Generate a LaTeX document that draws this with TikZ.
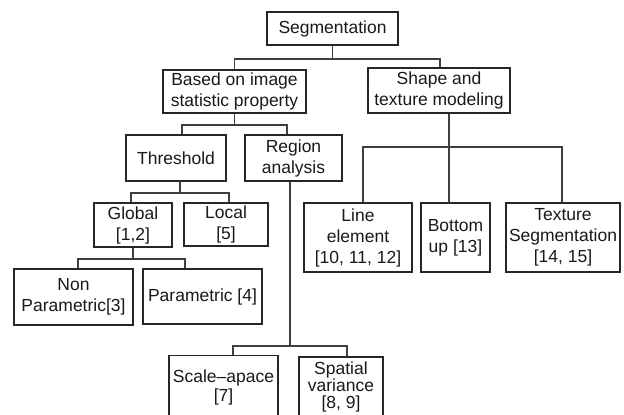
\documentclass[tikz,border=0pt]{standalone}
\usepackage{fontspec}
\setmainfont{Liberation Sans}
\begin{document}
\begin{tikzpicture}[x=1pt,y=-1pt,
  box/.style={draw=black!85, line width=1.8pt, fill=white, inner sep=0pt, align=center,
    font=\fontsize{17.5}{21}\selectfont, text=black!90},
  conn/.style={draw=black!75, line width=1.8pt}]
\useasboundingbox (0,0) rectangle (624,415);
\clip (0,0) rectangle (624,415);
\node[box, minimum width=131pt, minimum height=33pt] (seg) at (332.5,28.5) {Segmentation};
\node[box, minimum width=143pt, minimum height=43pt] (based) at (234.5,91.5) {Based on image\\statistic property};
\node[box, minimum width=142pt, minimum height=45pt] (shape) at (439,90.5) {Shape and\\texture modeling};
\node[box, minimum width=100pt, minimum height=46pt] (thresh) at (176,158) {Threshold};
\node[box, minimum width=97pt, minimum height=46pt] (region) at (293.5,158) {Region\\analysis};
\node[box, minimum width=78pt, minimum height=44pt] (global) at (133,225) {Global\\{[1,2]}};
\node[box, minimum width=84pt, minimum height=43pt] (local) at (226,224.5) {Local\\{[5]}};
\node[box, minimum width=119pt, minimum height=56pt] (nonpar) at (73.5,297) {Non\\Parametric[3]};
\node[box, minimum width=119pt, minimum height=55pt] (par) at (202.5,296.5) {Parametric [4]};
\node[box, minimum width=108pt, minimum height=69pt] (line) at (358,237.5) {Line\\element\\{[10, 11, 12]}};
\node[box, minimum width=69pt, minimum height=69pt] (bottom) at (455.5,237.5) {Bottom\\up [13]};
\node[box, minimum width=114pt, minimum height=69pt] (texture) at (563,237.5) {Texture\\Segmentation\\{[14, 15]}};
\node[box, minimum width=109pt, minimum height=63pt, font=\fontsize{17.5}{19}\selectfont] (scale) at (223.5,387) {Scale--apace\\{[7]}};
\node[box, minimum width=84pt, minimum height=60pt, font=\fontsize{17.5}{17}\selectfont] (spatial) at (341,387) {Spatial\\variance\\{[8, 9]}};

\path (seg.south) ++(0,13) coordinate (j1);
\draw[conn] (seg.south) -- (j1);
\draw[conn] (based.north) |- (j1) -| ([xshift=1pt]shape.north);

\path (based.south) ++(0,11) coordinate (j2);
\draw[conn] (based.south) -- (j2);
\draw[conn] ([xshift=6pt]thresh.north) |- (j2) -| ([xshift=-6.5pt]region.north);

\path ([xshift=4pt]thresh.south) ++(0,11) coordinate (j3);
\draw[conn] ([xshift=4pt]thresh.south) -- (j3);
\draw[conn] ([xshift=-2pt]global.north) |- (j3) -| ([xshift=3pt]local.north);

\path (global.south) ++(0,11) coordinate (j4);
\draw[conn] (global.south) -- (j4);
\draw[conn] ([xshift=4.5pt]nonpar.north) |- (j4) -| ([xshift=-17.5pt]par.north);

\path ([xshift=-3.5pt]region.south) ++(0,164) coordinate (j5);
\draw[conn] ([xshift=-3.5pt]region.south) -- (j5);
\draw[conn] ([xshift=9.5pt]scale.north) |- (j5) -| ([xshift=6pt]spatial.north);

\path ([xshift=10pt]shape.south) ++(0,33) coordinate (j6);
\draw[conn] ([xshift=10pt]shape.south) -- (j6);
\draw[conn] ([xshift=5pt]line.north) |- (j6) -| ([xshift=-1pt]texture.north);
\draw[conn] (j6) -- ([xshift=-6.5pt]bottom.north);
\end{tikzpicture}
\end{document}
